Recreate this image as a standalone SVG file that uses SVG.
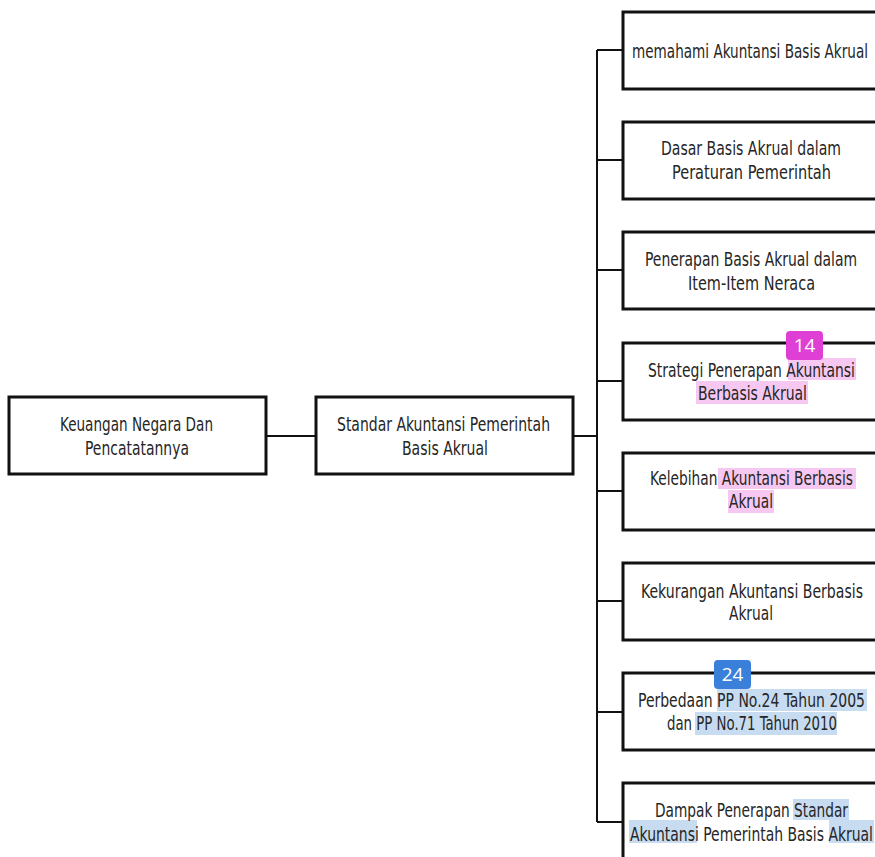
<svg xmlns="http://www.w3.org/2000/svg" width="875" height="857" viewBox="0 0 875 857">
  <style>
    .box { fill: #ffffff; stroke: #111111; stroke-width: 3; }
    .link { fill: none; stroke: #111111; stroke-width: 2; }
    .lbl { font-family: "Liberation Sans Narrow", "DejaVu Sans Condensed", "Liberation Sans", sans-serif; font-size: 19px; fill: #262626; }
    .hl-pink { fill: #f6c8f1; }
    .hl-blue { fill: #c8dcf1; }
    .badge-txt { font-family: "Open Sans", "Liberation Sans", sans-serif; font-size: 19px; fill: #ffffff; text-anchor: middle; }
  </style>
  <rect width="875" height="857" fill="#ffffff"/>

  <!-- connectors -->
  <g id="connectors">
    <line class="link" x1="267" y1="436" x2="315" y2="436"/>
    <line class="link" x1="573" y1="436" x2="597" y2="436"/>
    <line class="link" x1="597" y1="50" x2="597" y2="822"/>
    <line class="link" x1="597" y1="50" x2="623" y2="50"/>
    <line class="link" x1="597" y1="160" x2="623" y2="160"/>
    <line class="link" x1="597" y1="270" x2="623" y2="270"/>
    <line class="link" x1="597" y1="381" x2="623" y2="381"/>
    <line class="link" x1="597" y1="491" x2="623" y2="491"/>
    <line class="link" x1="597" y1="601" x2="623" y2="601"/>
    <line class="link" x1="597" y1="712" x2="623" y2="712"/>
    <line class="link" x1="597" y1="822" x2="623" y2="822"/>
  </g>

  <g id="root">
    <rect class="box" x="9" y="397" width="257" height="77"/>
    <text class="lbl" x="60" y="431" textLength="153" lengthAdjust="spacingAndGlyphs">Keuangan Negara Dan</text>
    <text class="lbl" x="85" y="455" textLength="104" lengthAdjust="spacingAndGlyphs">Pencatatannya</text>
  </g>

  <g id="sap">
    <rect class="box" x="316" y="397" width="257" height="77"/>
    <text class="lbl" x="337" y="431" textLength="213" lengthAdjust="spacingAndGlyphs">Standar Akuntansi Pemerintah</text>
    <text class="lbl" x="402" y="455" textLength="86" lengthAdjust="spacingAndGlyphs">Basis Akrual</text>
  </g>

  <g id="n1">
    <rect class="box" x="623" y="12" width="270" height="77"/>
    <text class="lbl" x="632" y="58" textLength="236" lengthAdjust="spacingAndGlyphs">memahami Akuntansi Basis Akrual</text>
  </g>

  <g id="n2">
    <rect class="box" x="623" y="122" width="270" height="77"/>
    <text class="lbl" x="661" y="155" textLength="180" lengthAdjust="spacingAndGlyphs">Dasar Basis Akrual dalam</text>
    <text class="lbl" x="672" y="179" textLength="159" lengthAdjust="spacingAndGlyphs">Peraturan Pemerintah</text>
  </g>

  <g id="n3">
    <rect class="box" x="623" y="232" width="270" height="77"/>
    <text class="lbl" x="645" y="266" textLength="212" lengthAdjust="spacingAndGlyphs">Penerapan Basis Akrual dalam</text>
    <text class="lbl" x="688" y="290" textLength="127" lengthAdjust="spacingAndGlyphs">Item-Item Neraca</text>
  </g>

  <g id="n4">
    <rect class="box" x="623" y="343" width="270" height="77"/>
    <rect class="hl-pink" x="788" y="358" width="68" height="22"/>
    <rect class="hl-pink" x="696" y="381" width="112" height="23"/>
    <text class="lbl" x="648" y="377" textLength="207" lengthAdjust="spacingAndGlyphs">Strategi Penerapan Akuntansi</text>
    <text class="lbl" x="698" y="400" textLength="109" lengthAdjust="spacingAndGlyphs">Berbasis Akrual</text>
    <rect x="786" y="331" width="37" height="29" rx="4" fill="#e03fd6"/>
    <text class="badge-txt" x="804.5" y="352">14</text>
  </g>

  <g id="n5">
    <rect class="box" x="623" y="453" width="270" height="77"/>
    <rect class="hl-pink" x="718" y="468" width="138" height="21"/>
    <rect class="hl-pink" x="728" y="490" width="46" height="23"/>
    <text class="lbl" x="650" y="485" textLength="203" lengthAdjust="spacingAndGlyphs">Kelebihan Akuntansi Berbasis</text>
    <text class="lbl" x="729" y="508" textLength="44" lengthAdjust="spacingAndGlyphs">Akrual</text>
  </g>

  <g id="n6">
    <rect class="box" x="623" y="563" width="270" height="77"/>
    <text class="lbl" x="641" y="598" textLength="222" lengthAdjust="spacingAndGlyphs">Kekurangan Akuntansi Berbasis</text>
    <text class="lbl" x="729" y="620" textLength="44" lengthAdjust="spacingAndGlyphs">Akrual</text>
  </g>

  <g id="n7">
    <rect class="box" x="623" y="673" width="270" height="77"/>
    <rect class="hl-blue" x="717" y="689" width="150" height="22"/>
    <rect class="hl-blue" x="695" y="712" width="142" height="23"/>
    <text class="lbl" x="638" y="707" textLength="227" lengthAdjust="spacingAndGlyphs">Perbedaan PP No.24 Tahun 2005</text>
    <text class="lbl" x="667" y="730" textLength="170" lengthAdjust="spacingAndGlyphs">dan PP No.71 Tahun 2010</text>
    <rect x="714" y="660" width="37" height="29" rx="4" fill="#3a7fd9"/>
    <text class="badge-txt" x="732.5" y="681">24</text>
  </g>

  <g id="n8">
    <rect class="box" x="623" y="783" width="270" height="90"/>
    <rect class="hl-blue" x="793" y="799" width="56" height="21"/>
    <rect class="hl-blue" x="629" y="820" width="68" height="23"/>
    <rect class="hl-blue" x="829" y="820" width="45" height="23"/>
    <text class="lbl" x="655" y="817" textLength="193" lengthAdjust="spacingAndGlyphs">Dampak Penerapan Standar</text>
    <text class="lbl" x="630" y="841" textLength="243" lengthAdjust="spacingAndGlyphs">Akuntansi Pemerintah Basis Akrual</text>
  </g>
</svg>
